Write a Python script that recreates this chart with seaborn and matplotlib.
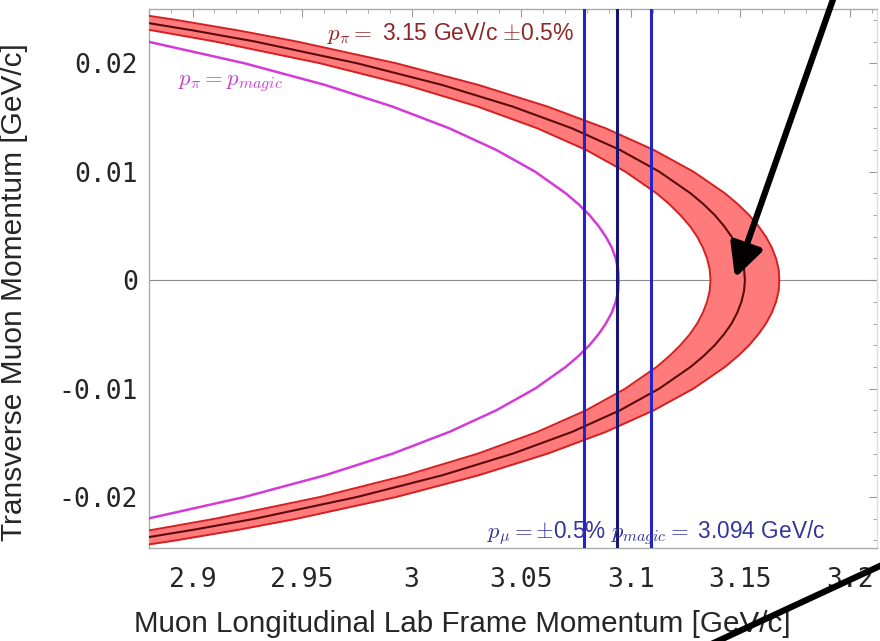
import matplotlib
matplotlib.use("Agg")
import matplotlib.pyplot as plt
import seaborn as sns
import pandas as pd
from matplotlib.patches import FancyArrowPatch
from matplotlib.ticker import MultipleLocator

# ---- data ----
y_vals = [0.026, 0.025, 0.024, 0.023, 0.022, 0.020, 0.018, 0.016, 0.014, 0.012, 0.010,
          0.008, 0.007, 0.006, 0.005, 0.004, 0.003, 0.002, 0.001, 0.0,
          -0.001, -0.002, -0.003, -0.004, -0.005, -0.006, -0.007, -0.008, -0.010,
          -0.012, -0.014, -0.016, -0.018, -0.020, -0.022, -0.023, -0.024, -0.025, -0.026]
x_center = [2.7987, 2.8372, 2.8709, 2.9009, 2.9285, 2.9750, 3.0139, 3.0462, 3.0732, 3.0952, 3.1131,
            3.1274, 3.1333, 3.1384, 3.1426, 3.1461, 3.1487, 3.1506, 3.1518, 3.1522,
            3.1518, 3.1506, 3.1487, 3.1461, 3.1426, 3.1384, 3.1333, 3.1274, 3.1131,
            3.0952, 3.0732, 3.0462, 3.0139, 2.9750, 2.9285, 2.9009, 2.8709, 2.8372, 2.7987]
x_outer = [2.8218, 2.8594, 2.8923, 2.9215, 2.9476, 2.9929, 3.0305, 3.0621, 3.0886, 3.1106, 3.1287,
           3.1431, 3.1490, 3.1541, 3.1583, 3.1618, 3.1645, 3.1664, 3.1676, 3.1679,
           3.1676, 3.1664, 3.1645, 3.1618, 3.1583, 3.1541, 3.1490, 3.1431, 3.1287,
           3.1106, 3.0886, 3.0621, 3.0305, 2.9929, 2.9476, 2.9215, 2.8923, 2.8594, 2.8218]
x_inner = [2.7787, 2.8170, 2.8515, 2.8824, 2.9103, 2.9581, 2.9974, 3.0302, 3.0574, 3.0797, 3.0976,
           3.1119, 3.1177, 3.1227, 3.1270, 3.1304, 3.1330, 3.1349, 3.1361, 3.1365,
           3.1361, 3.1349, 3.1330, 3.1304, 3.1270, 3.1227, 3.1177, 3.1119, 3.0976,
           3.0797, 3.0574, 3.0302, 2.9974, 2.9581, 2.9103, 2.8824, 2.8515, 2.8170, 2.7787]
x_magic = [2.7564, 2.7932, 2.8253, 2.8538, 2.8794, 2.9236, 2.9604, 2.9913, 3.0172, 3.0387, 3.0564,
           3.0704, 3.0762, 3.0812, 3.0853, 3.0887, 3.0914, 3.0932, 3.0943, 3.0945,
           3.0943, 3.0932, 3.0914, 3.0887, 3.0853, 3.0812, 3.0762, 3.0704, 3.0564,
           3.0387, 3.0172, 2.9913, 2.9604, 2.9236, 2.8794, 2.8538, 2.8253, 2.7932, 2.7564]
vlines_x = [3.0785, 3.094, 3.1095]
x_ticks = [2.9, 2.95, 3.0, 3.05, 3.1, 3.15, 3.2]
x_ticklabels = ["2.9", "2.95", "3", "3.05", "3.1", "3.15", "3.2"]
y_ticks = [-0.02, -0.01, 0.0, 0.01, 0.02]
y_ticklabels = ["-0.02", "-0.01", "0", "0.01", "0.02"]

sns.set_theme(style="white")
plt.rcParams["mathtext.fontset"] = "cm"
plt.rcParams["font.family"] = ["Liberation Sans", "DejaVu Sans"]

fig = plt.figure(figsize=(8.8, 6.41), dpi=100)
ax = fig.add_axes([149/880, 1-548/641, (877-149)/880, (548-9)/641])

df = pd.DataFrame({"y": y_vals, "center": x_center, "outer": x_outer,
                   "inner": x_inner, "magic": x_magic})

ax.axhline(0, color="#8c8c8c", lw=0.8, zorder=1)
ax.fill_betweenx(df["y"], df["inner"], df["outer"], color="#ff7b7b", lw=0, zorder=2)
sns.lineplot(data=df, x="outer", y="y", sort=False, estimator=None, color="#d42020", lw=1.4, ax=ax, zorder=3)
sns.lineplot(data=df, x="inner", y="y", sort=False, estimator=None, color="#d42020", lw=1.4, ax=ax, zorder=3)
sns.lineplot(data=df, x="center", y="y", sort=False, estimator=None, color="#5a0a0a", lw=1.5, ax=ax, zorder=3)
sns.lineplot(data=df, x="magic", y="y", sort=False, estimator=None, color="#d43ad8", lw=1.8, ax=ax, zorder=3)

vcolors = ["#2323c8", "#161670", "#2323c8"]
for xv, c in zip(vlines_x, vcolors):
    ax.axvline(xv, color=c, lw=2.2, zorder=4)

ax.set_xlim(2.8801, 3.2125)
ax.set_ylim(-0.0247, 0.0250)

ax.set_xticks(x_ticks)
ax.set_xticklabels(x_ticklabels, family="DejaVu Sans Mono", fontsize=19)
ax.set_yticks(y_ticks)
ax.set_yticklabels(y_ticklabels, family="DejaVu Sans Mono", fontsize=19)
ax.xaxis.set_minor_locator(MultipleLocator(0.01))
ax.yaxis.set_minor_locator(MultipleLocator(0.002))
ax.tick_params(which="both", direction="in", top=True, right=True, color="#999999")
ax.tick_params(which="major", length=6, width=0.8)
ax.tick_params(which="minor", length=3, width=0.6)
ax.tick_params(axis="x", pad=14)
ax.tick_params(axis="y", pad=8)
for s in ax.spines.values():
    s.set_color("#aaaaaa")
    s.set_linewidth(1.0)
ax.spines["right"].set_color("#dddddd")

ax.set_xlabel("Muon Longitudinal Lab Frame Momentum [GeV/c]", fontsize=21.3, labelpad=14)
ax.xaxis.set_label_coords((462-149)/728, -0.115)
ax.set_ylabel("Transverse Muon Momentum [GeV/c]", fontsize=21.5)
ax.yaxis.set_label_coords(-0.166, (548-292)/539)

ax.text(2.9614, 0.02276, r"$p_\pi =$ 3.15 GeV/c $\pm$0.5%", color="#8e2828",
        fontsize=16.5, ha="left", va="center", zorder=5)
ax.text(2.8934, 0.01816, r"$p_\pi = p_{magic}$", color="#d040d4",
        fontsize=16.5, ha="left", va="center", zorder=5)
ax.text(3.0345, -0.02332, r"$p_\mu = \pm$0.5% $p_{magic} =$ 3.094 GeV/c", color="#35359a",
        fontsize=16.3, ha="left", va="center", zorder=5)

# black annotation arrows drawn over the figure
a1 = FancyArrowPatch(posA=(836, 650), posB=(735, 641-278), transform=None,
                     arrowstyle="-|>,head_length=9,head_width=4.5", color="black",
                     lw=4.5, mutation_scale=2.2, shrinkA=0, shrinkB=0, zorder=10)
fig.add_artist(a1)
a2 = FancyArrowPatch(posA=(895, 641-559), posB=(705, -6), transform=None,
                     arrowstyle="-", color="black", lw=4.5, shrinkA=0, shrinkB=0, zorder=10)
fig.add_artist(a2)

fig.savefig("out.png", dpi=100)
